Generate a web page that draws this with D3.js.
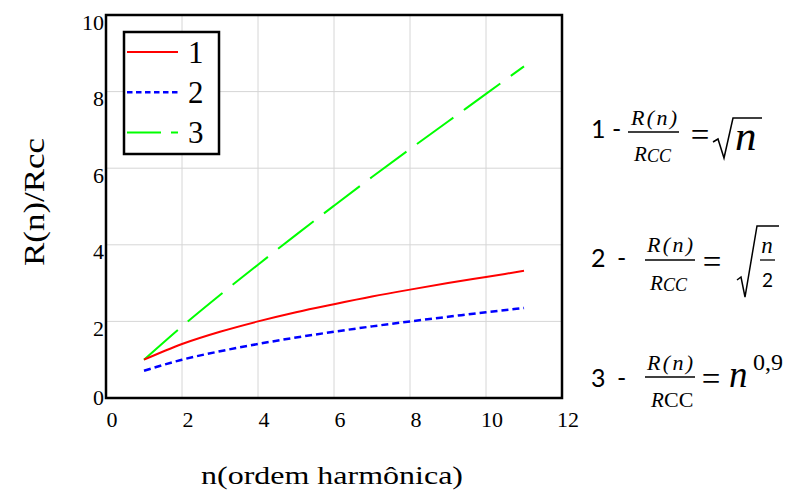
<!DOCTYPE html>
<html>
<head>
<meta charset="utf-8">
<script src="https://cdn.jsdelivr.net/npm/d3@7"></script>
<style>
  html, body { margin: 0; padding: 0; background: #fff; }
  svg { display: block; }
</style>
</head>
<body>
<script>
// ---- data ----
const harmonics = [1, 2, 3, 4, 5, 6, 7, 8, 9, 10, 11];
const series1 = [1.00, 1.41, 1.73, 2.00, 2.24, 2.45, 2.65, 2.83, 3.00, 3.16, 3.32];
const series2 = [0.71, 1.00, 1.22, 1.41, 1.58, 1.73, 1.87, 2.00, 2.12, 2.24, 2.35];
const series3 = [1.00, 1.87, 2.69, 3.48, 4.26, 5.02, 5.77, 6.50, 7.22, 7.94, 8.66];
const seriesNames = ["1", "2", "3"];
const xTicks = [0, 2, 4, 6, 8, 10, 12];
const yTicks = [0, 2, 4, 6, 8, 10];
const xTitle = "n(ordem harmônica)";
const yTitle = "R(n)/Rcc";

const W = 787, H = 494;
const SERIF = "Liberation Serif";
const SANS = "Lato";

const svg = d3.select("body").append("svg").attr("width", W).attr("height", H);

const x = d3.scaleLinear().domain([0, 12]).range([106, 562]);
const y = d3.scaleLinear().domain([0, 10]).range([398, 15]);

function font(sel, fam, size, italic) {
  sel.style("font-family", fam).style("font-size", size + "px");
  if (italic) sel.style("font-style", "italic");
  return sel;
}

// grid
svg.append("g").selectAll("line").data(xTicks.slice(1, -1)).join("line")
  .attr("x1", d => x(d)).attr("x2", d => x(d)).attr("y1", y(10)).attr("y2", y(0))
  .attr("stroke", "#d6d6d6").attr("stroke-width", 1);
svg.append("g").selectAll("line").data(yTicks.slice(1, -1)).join("line")
  .attr("y1", d => y(d)).attr("y2", d => y(d)).attr("x1", x(0)).attr("x2", x(12))
  .attr("stroke", "#d6d6d6").attr("stroke-width", 1);

// axes (labels)
const gx = svg.append("g").attr("transform", `translate(0,${y(0)})`)
  .call(d3.axisBottom(x).tickValues(xTicks).tickSize(0).tickPadding(0));
gx.attr("font-family", null).attr("font-size", null);
gx.select(".domain").remove();
font(gx.selectAll("text"), SERIF, 22).attr("fill", "#000")
  .attr("x", 5.5).attr("y", 29).attr("dy", null);

const gy = svg.append("g").attr("transform", `translate(${x(0)},0)`)
  .call(d3.axisLeft(y).tickValues(yTicks).tickSize(0).tickPadding(0));
gy.attr("font-family", null).attr("font-size", null);
gy.select(".domain").remove();
font(gy.selectAll("text"), SERIF, 22).attr("fill", "#000")
  .attr("x", -2).attr("dy", null).attr("y", d => d === 0 ? 6 : 14);

// lines
const pts = vals => vals.map((v, i) => [harmonics[i], v]);
const line = d3.line().x(d => x(d[0])).y(d => y(d[1])).curve(d3.curveMonotoneX);

svg.append("path").attr("d", line(pts(series3))).attr("fill", "none")
  .attr("stroke", "#00ff00").attr("stroke-width", 2).attr("stroke-dasharray", "45,13");
svg.append("path").attr("d", line(pts(series2))).attr("fill", "none")
  .attr("stroke", "#0000ff").attr("stroke-width", 2.5).attr("stroke-dasharray", "7,4");
svg.append("path").attr("d", line(pts(series1))).attr("fill", "none")
  .attr("stroke", "#ff0000").attr("stroke-width", 2);

// plot border
svg.append("rect").attr("x", x(0)).attr("y", y(10)).attr("width", x(12) - x(0)).attr("height", y(0) - y(10))
  .attr("fill", "none").attr("stroke", "#000").attr("stroke-width", 2.5);

// legend
const legend = svg.append("g");
legend.append("rect").attr("x", 124).attr("y", 32).attr("width", 95).attr("height", 122)
  .attr("fill", "#fff").attr("stroke", "#000").attr("stroke-width", 2.5);
const legStyles = [
  { color: "#ff0000", dash: null, w: 2 },
  { color: "#0000ff", dash: "5.5,3.5", w: 2.5 },
  { color: "#00ff00", dash: "34,10", w: 2 }
];
seriesNames.forEach((name, i) => {
  const ly = 52 + i * 40.3;
  legend.append("line").attr("x1", 127).attr("x2", 178).attr("y1", ly).attr("y2", ly)
    .attr("stroke", legStyles[i].color).attr("stroke-width", legStyles[i].w)
    .attr("stroke-dasharray", legStyles[i].dash);
  font(legend.append("text").attr("x", 188).attr("y", ly + 10.5).text(name), SERIF, 31).attr("fill", "#000");
});

// axis titles
font(svg.append("text").attr("x", 332).attr("y", 484).attr("text-anchor", "middle"), SERIF, 26)
  .attr("textLength", 262).attr("lengthAdjust", "spacingAndGlyphs").attr("fill", "#000").text(xTitle);
font(svg.append("text").attr("transform", "translate(44,202) rotate(-90)").attr("text-anchor", "middle"), SERIF, 29)
  .attr("textLength", 128).attr("lengthAdjust", "spacingAndGlyphs").attr("fill", "#000").text(yTitle);

// equations
const eq = svg.append("g").attr("fill", "#000");
function txt(t, xx, yy, fam, size, opts = {}) {
  const e = font(eq.append("text").attr("x", xx).attr("y", yy), fam, size, opts.italic)
    .attr("text-anchor", opts.anchor || "start").text(t);
  if (opts.len) e.attr("textLength", opts.len).attr("lengthAdjust", opts.adj || "spacing");
  return e;
}
function hbar(x1, x2, yy) {
  eq.append("line").attr("x1", x1).attr("x2", x2).attr("y1", yy).attr("y2", yy)
    .attr("stroke", "#000").attr("stroke-width", 1.3);
}
function rcc(x0, base, upright) {
  txt("R", x0, base, SERIF, 21, { italic: true });
  if (upright) txt("CC", x0 + 13, base, SERIF, 22);
  else txt("CC", x0 + 13, base + 1, SERIF, 18, { italic: true });
}

// eq 1
txt("1", 591, 138, SANS, 25);
txt("-", 612, 138, SANS, 25);
txt("R(n)", 654, 125, SERIF, 22, { anchor: "middle", italic: true, len: 46 });
hbar(628, 679, 132);
rcc(634, 161, false);
txt("=", 700, 146, SERIF, 33, { anchor: "middle" });
eq.append("path").attr("d", "M713,142 L718,139 L724,158 L733,118 L762,118")
  .attr("fill", "none").attr("stroke", "#000").attr("stroke-width", 1.5);
txt("n", 735, 150, SERIF, 43, { italic: true });

// eq 2
txt("2", 591, 267, SANS, 25);
txt("-", 617, 267, SANS, 25);
txt("R(n)", 670, 252, SERIF, 22, { anchor: "middle", italic: true, len: 46 });
hbar(645, 695, 260);
rcc(650, 290, false);
txt("=", 712, 273, SERIF, 33, { anchor: "middle" });
eq.append("path").attr("d", "M737,280 L741,277 L745,297 L757,226 L779,226")
  .attr("fill", "none").attr("stroke", "#000").attr("stroke-width", 1.5);
txt("n", 767, 253, SERIF, 23, { anchor: "middle", italic: true });
hbar(760, 775, 260);
txt("2", 767.5, 287, SANS, 19, { anchor: "middle" });

// eq 3
txt("3", 591, 387, SANS, 25);
txt("-", 617, 387, SANS, 25);
txt("R(n)", 670, 370, SERIF, 22, { anchor: "middle", italic: true, len: 46 });
hbar(645, 695, 377);
rcc(651, 407, true);
txt("=", 711, 390, SERIF, 33, { anchor: "middle" });
txt("n", 729, 387, SERIF, 37, { italic: true });
txt("0,9", 753, 370, SERIF, 24);
</script>
</body>
</html>
